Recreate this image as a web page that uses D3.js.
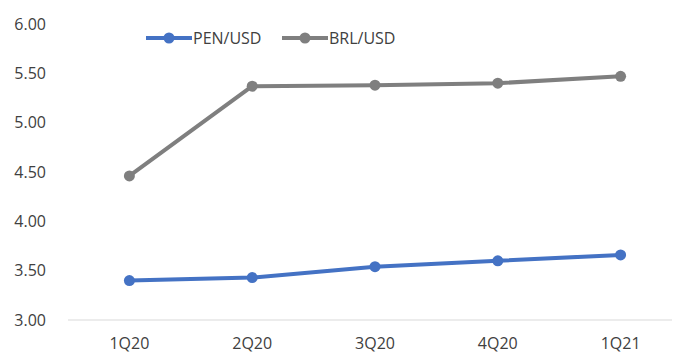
<!DOCTYPE html>
<html>
<head>
<meta charset="utf-8">
<script src="https://cdn.jsdelivr.net/npm/d3@7"></script>
<style>
  html, body { margin: 0; padding: 0; background: #fff; }
  svg text { font-family: "Open Sans", "Noto Sans", sans-serif; fill: #404040; }
</style>
</head>
<body>
<svg id="chart" width="675" height="353"></svg>
<script>
// Quarterly exchange rates
const quarters = ["1Q20", "2Q20", "3Q20", "4Q20", "1Q21"];
const penUsd = [3.40, 3.43, 3.54, 3.60, 3.66];
const brlUsd = [4.46, 5.37, 5.38, 5.40, 5.47];
const yTicks = [3.0, 3.5, 4.0, 4.5, 5.0, 5.5, 6.0];

const series = [
  { name: "PEN/USD", values: penUsd, color: "#4472c4" },
  { name: "BRL/USD", values: brlUsd, color: "#7f7f7f" }
];

const svg = d3.select("#chart");

const x = d3.scaleBand().domain(quarters).range([68, 682]);
const y = d3.scaleLinear().domain([3, 6]).range([320, 24]);

// Baseline
svg.append("line")
  .attr("x1", 68).attr("x2", 672)
  .attr("y1", y(3)).attr("y2", y(3))
  .attr("stroke", "#d9d9d9").attr("stroke-width", 1.2);

// Y axis labels
const yAxis = d3.axisLeft(y).tickValues(yTicks).tickFormat(d3.format(".2f")).tickSize(0).tickPadding(0);
const gy = svg.append("g").attr("transform", "translate(46,0)").call(yAxis);
gy.select(".domain").remove();
gy.selectAll("text").attr("font-size", 16).attr("fill", "#404040")
  .style("font-family", "'Open Sans', sans-serif");

// X axis labels
const xAxis = d3.axisBottom(x).tickSize(0).tickPadding(0);
const gx = svg.append("g").attr("transform", "translate(0,338)").call(xAxis);
gx.select(".domain").remove();
gx.selectAll("text").attr("font-size", 16).attr("fill", "#404040")
  .style("font-family", "'Open Sans', sans-serif");

const cx = d => x(d) + x.bandwidth() / 2;
const line = d3.line().x((d, i) => cx(quarters[i])).y(d => y(d));

series.forEach(s => {
  svg.append("path")
    .datum(s.values)
    .attr("d", line)
    .attr("fill", "none")
    .attr("stroke", s.color)
    .attr("stroke-width", 4)
    .attr("stroke-linejoin", "round");
  svg.append("g").selectAll("circle")
    .data(s.values)
    .join("circle")
    .attr("cx", (d, i) => cx(quarters[i]))
    .attr("cy", d => y(d))
    .attr("r", 5.5)
    .attr("fill", s.color);
});

// Legend
const legendX = [146, 282];
const legend = svg.append("g");
series.forEach((s, i) => {
  const g = legend.append("g").attr("transform", `translate(${legendX[i]},38)`);
  g.append("line").attr("x1", 0).attr("x2", 46).attr("y1", 0).attr("y2", 0)
    .attr("stroke", s.color).attr("stroke-width", 4);
  g.append("circle").attr("cx", 23).attr("cy", 0).attr("r", 5.5).attr("fill", s.color);
  g.append("text").attr("x", 47).attr("y", 0).attr("dy", "0.35em")
    .attr("font-size", 16).text(s.name);
});
</script>
</body>
</html>
